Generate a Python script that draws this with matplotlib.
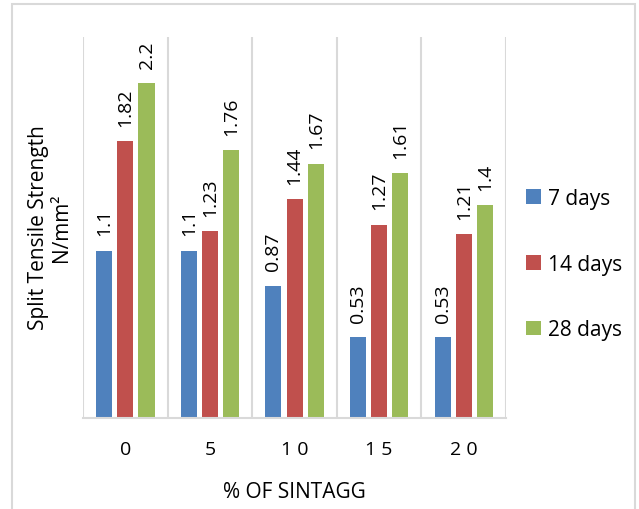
import numpy as np
import matplotlib.pyplot as plt
from matplotlib.patches import Rectangle

# Split tensile strength (N/mm²) by % of sintagg and curing age
sintagg = ['0', '5', '1 0', '1 5', '2 0']
days_7 = [1.1, 1.1, 0.87, 0.53, 0.53]
days_14 = [1.82, 1.23, 1.44, 1.27, 1.21]
days_28 = [2.2, 1.76, 1.67, 1.61, 1.4]
series = ['7 days', '14 days', '28 days']
colors = ['#4F81BD', '#C0504D', '#9BBB59']

plt.rcParams['font.family'] = ['Open Sans', 'DejaVu Sans']

fig = plt.figure(figsize=(6.39, 5.10), dpi=100)
ax = fig.add_axes([0.130, 0.178, 0.662, 0.747])

# outer chart border
fig.patches.append(Rectangle((12 / 639, -0.02), 623 / 639, 1 - 5 / 510 + 0.02,
                             transform=fig.transFigure, fill=False,
                             edgecolor='#D9D9D9', linewidth=1.5))

x = np.arange(len(sintagg))
width = 0.19
step = 0.25
for i, (vals, name, c) in enumerate(zip([days_7, days_14, days_28], series, colors)):
    pos = x + (i - 1) * step
    ax.bar(pos, vals, width, color=c, label=name)
    for p, v in zip(pos, vals):
        ax.annotate(f'{v:g}', (p, v), xytext=(0, 11), textcoords='offset points',
                    rotation=90, ha='center', va='bottom', fontsize=14, color='#000000')

ax.set_xlim(-0.5, len(sintagg) - 0.5)
ax.set_ylim(0, 2.5)
ax.set_yticks([])
ax.set_xticks(x)
ax.set_xticklabels(sintagg, fontsize=14)
ax.set_xticks(np.arange(-0.5, len(sintagg)), minor=True)
ax.tick_params(axis='x', which='both', length=0, pad=16)
ax.grid(True, which='minor', axis='x', color='#D9D9D9', linewidth=1.5)
ax.set_axisbelow(True)
for s in ['top', 'right', 'left']:
    ax.spines[s].set_visible(False)
ax.spines['bottom'].set_color('#D9D9D9')
ax.spines['bottom'].set_linewidth(1.5)

ax.set_xlabel('% OF SINTAGG', fontsize=15, labelpad=16)
fig.text(50 / 639, 1 - 228 / 510, 'Split Tensile Strength\nN/mm²', rotation=90,
         ha='center', va='center', multialignment='center', fontsize=15, linespacing=1.15)

ax.legend(loc='center left', bbox_to_anchor=(518 / 639, 1 - 265 / 510),
          bbox_transform=fig.transFigure, frameon=False, fontsize=15,
          handlelength=0.7, handleheight=0.7, handletextpad=0.35, labelspacing=2.15,
          borderaxespad=0)

fig.savefig('out.png', dpi=100)
